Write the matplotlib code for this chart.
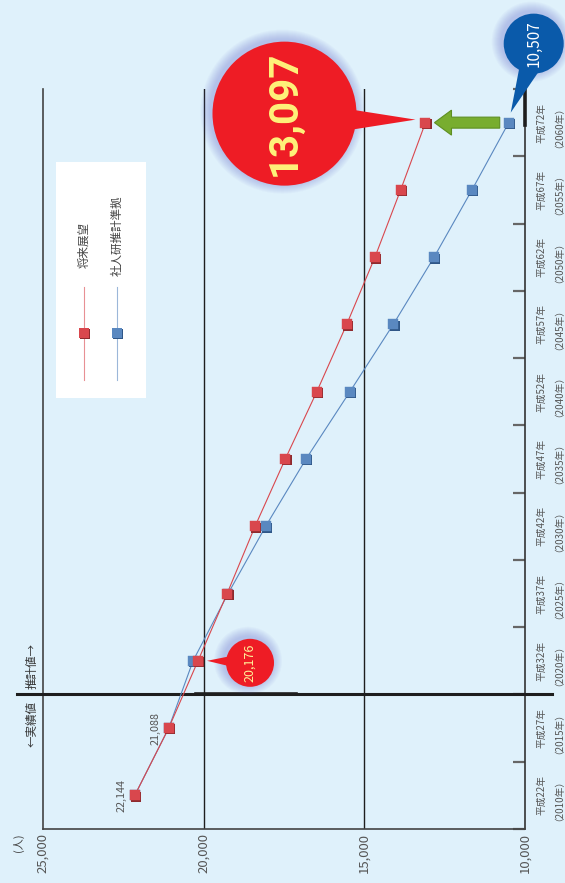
import numpy as np
import matplotlib.pyplot as plt
from matplotlib.patches import Circle, Polygon, FancyArrow, Rectangle
from matplotlib.lines import Line2D
from matplotlib.transforms import offset_copy, IdentityTransform

plt.rcParams['font.family'] = ['Noto Sans CJK JP', 'DejaVu Sans']

# data
years = [2010, 2015, 2020, 2025, 2030, 2035, 2040, 2045, 2050, 2055, 2060]
heisei = [22, 27, 32, 37, 42, 47, 52, 57, 62, 67, 72]
outlook = [22144, 21088, 20176, 19270, 18400, 17460, 16480, 15550, 14670, 13870, 13097]
ipss = [22144, 21088, 20330, 19240, 18070, 16815, 15450, 14100, 12830, 11650, 10507]
pop_ticks = [25000, 20000, 15000, 10000]
series_names = ['将来展望', '社人研推計準拠']

W, H = 565, 883
BG = '#dff1fb'
RED, RED_D = '#d9474d', '#8e2a2e'
BLUE, BLUE_D = '#5a88c0', '#2f5687'

fig = plt.figure(figsize=(W / 100, H / 100), dpi=100, facecolor=BG)
ax = fig.add_axes([43 / W, 54 / H, 482 / W, 740 / H])
ax.set_facecolor(BG)
idx = np.arange(len(years))
ax.set_xlim(25000, 10000)
ax.set_ylim(-0.5, len(years) - 0.5)

# frame
ax.spines['top'].set_visible(False)
ax.spines['left'].set_color('#444444')
ax.spines['bottom'].set_color('#444444')
ax.spines['right'].set_color('#333333')
for s in ['left', 'bottom', 'right']:
    ax.spines[s].set_linewidth(1.2)
for v in pop_ticks[1:3]:
    ax.axvline(v, color='#1e1e1e', lw=1.0, zorder=1)

ax.set_xticks(pop_ticks)
ax.set_xticklabels([f'{v:,}' for v in pop_ticks], rotation=90, fontsize=9.5, color='#555555')
ax.tick_params(axis='x', length=0, pad=3)
ax.yaxis.set_ticks_position('right')
ax.set_yticks(np.arange(-0.5, len(years), 1))
ax.tick_params(axis='y', direction='in', length=8.5, width=1.6, color='#666666', labelright=False)

ytr = ax.get_yaxis_transform()
for i, (h, y) in enumerate(zip(heisei, years)):
    ax.text(1.048, i, f'平成{h}年\n（{y}年）', transform=ytr, rotation=90, ha='center', va='center',
            fontsize=7, color='#555555', linespacing=1.4, multialignment='center', clip_on=False)

# actual / projection divider
ax.plot([-0.054, 1.056], [1.5, 1.5], transform=ytr, color='#1e1e1e', lw=2.2, clip_on=False, zorder=3)
ax.plot([0.317, 0.525], [1.51, 1.51], transform=ytr, color='#1e1e1e', lw=2.6, clip_on=False, zorder=3)
ax.plot([1, 1], [len(years) - 0.5, len(years) - 1.03], transform=ytr, color='#1e1e1e', lw=2.6,
        clip_on=False, zorder=3)
ax.annotate('←実績値', (-0.023, 1.5), xycoords=ytr, xytext=(0, -7), textcoords='offset pixels',
            rotation=90, ha='center', va='top', fontsize=8.3, color='#333333', annotation_clip=False)
ax.annotate('推計値→', (-0.023, 1.5), xycoords=ytr, xytext=(0, 5), textcoords='offset pixels',
            rotation=90, ha='center', va='bottom', fontsize=8.3, color='#333333', annotation_clip=False)
fig.text(18 / W, 1 - 833 / H, '(人)', rotation=90, ha='center', va='top', fontsize=8, color='#444444')

# series
shadow = offset_copy(ax.transData, fig=fig, x=1.4, y=-1.4, units='dots')
for vals, c, cd in [(ipss, BLUE, BLUE_D), (outlook, RED, RED_D)]:
    ax.plot(vals, idx, color=c, lw=0.8, zorder=4)
    ax.plot(vals, idx, ls='none', marker='s', ms=7.6, color=cd, mew=0, transform=shadow, zorder=5)
    ax.plot(vals, idx, ls='none', marker='s', ms=7.6, color=c, mec=c, mew=0.3, zorder=5)

for i in [0, 1]:
    ax.annotate(f'{outlook[i]:,}', (outlook[i], i), xytext=(-13, 0), textcoords='offset pixels',
                rotation=90, ha='center', va='center', fontsize=7.8, color='#555555')

T = IdentityTransform()


def disp(x, y):
    return ax.transData.transform((x, y))


def bubble(p, off, r, color, tri):
    cx, cy = p[0] + off[0], p[1] - off[1]
    for k in range(1, 11):
        fig.add_artist(Circle((cx - 2, cy + 2), r + k, color='#5b5fd0', alpha=0.035, lw=0, transform=T))
    pts = [(p[0] + a, p[1] - b) for a, b in tri]
    fig.add_artist(Polygon(pts, closed=True, color=color, lw=0, transform=T))
    fig.add_artist(Circle((cx, cy), r, color=color, lw=0, transform=T))
    return cx, cy


# 20,176 bubble
p1 = disp(outlook[2], 2)
cx, cy = bubble(p1, (52, 2), 24, '#ee1c25', [(9, 0), (34, -5), (34, 6)])
fig.text(cx / W, cy / H, f'{outlook[2]:,}', rotation=90, ha='center', va='center', fontsize=9,
         color='#fff39a')

# 13,097 bubble
p2 = disp(outlook[-1], len(years) - 1)
cx, cy = bubble(p2, (-141, -9), 72, '#ee1c25', [(-10, -3), (-80, -14), (-80, 8)])
fig.text(cx / W, cy / H, f'{outlook[-1]:,}', rotation=90, ha='center', va='center', fontsize=29,
         fontweight='bold', color='#fff27a', family=['Roboto', 'DejaVu Sans'])

# 10,507 bubble
p3 = disp(ipss[-1], len(years) - 1)
cx, cy = bubble(p3, (25, -79), 30, '#0a5aaa', [(2, -10), (12, -62), (32, -54)])
fig.text(cx / W, cy / H, f'{ipss[-1]:,}', rotation=90, ha='center', va='center', fontsize=11,
         color='white')

# green arrow between end points
tail = p3[0] - 9
tip = p2[0] + 9
fig.add_artist(FancyArrow(tail, p2[1], tip - tail, 0, width=11, head_width=25, head_length=17,
                          length_includes_head=True, facecolor='#78ad2f', edgecolor='#5e8f22',
                          lw=0.8, transform=T))

# legend
fig.add_artist(Rectangle((56, H - 398), 90, 236, facecolor='white', edgecolor='none', transform=T))
for x, c, cd, name, yb in [(84, RED, RED_D, series_names[0], 268), (117, BLUE, BLUE_D, series_names[1], 276)]:
    fig.add_artist(Line2D([x, x], [H - 287, H - 380], color=c, lw=0.8, alpha=0.6, transform=T))
    fig.add_artist(Line2D([x + 1.4], [H - 333 - 1.4], marker='s', ms=7.6, color=cd, mew=0, transform=T))
    fig.add_artist(Line2D([x], [H - 333], marker='s', ms=7.6, color=c, mew=0, transform=T))
    fig.text(x / W, 1 - yb / H, name, rotation=90, ha='center', va='bottom', fontsize=8.3, color='#444444')

fig.savefig('out.png', dpi=100, facecolor=BG)
